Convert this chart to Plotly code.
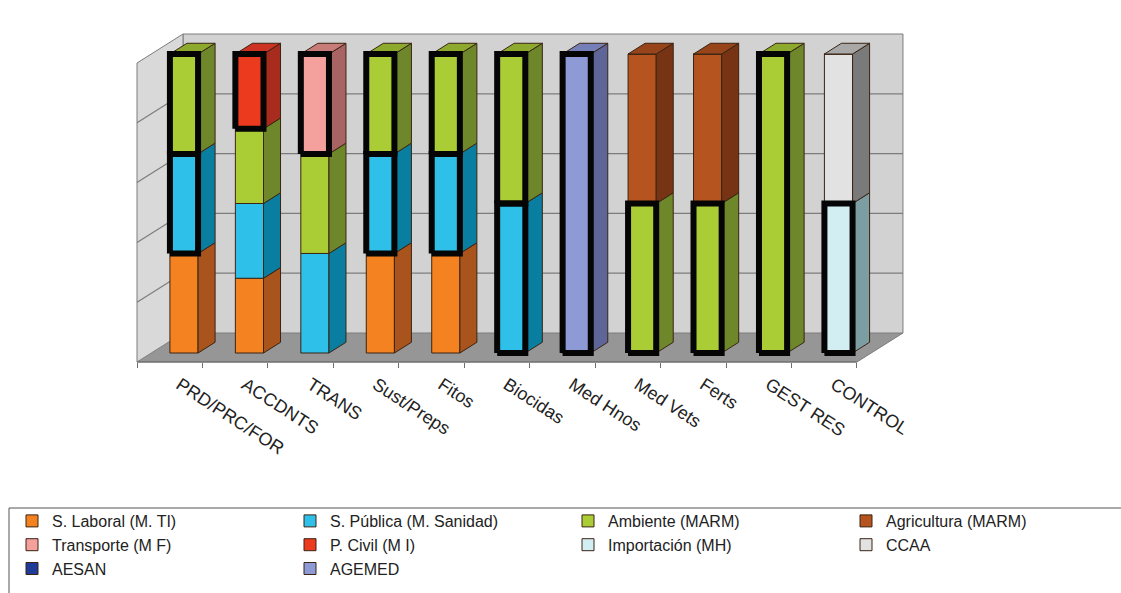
import plotly.graph_objects as go

# ---- data (percent of each activity) ----
categories = ["PRD/PRC/FOR", "ACCDNTS", "TRANS", "Sust/Preps", "Fitos", "Biocidas",
              "Med Hnos", "Med Vets", "Ferts", "GEST RES", "CONTROL"]

s_laboral   = [33.3, 25, 0, 33.3, 33.3, 0, 0, 0, 0, 0, 0]
s_publica   = [33.3, 25, 33.3, 33.3, 33.3, 50, 0, 0, 0, 0, 0]
ambiente    = [33.4, 25, 33.3, 33.4, 33.4, 50, 0, 50, 50, 100, 0]
agricultura = [0, 0, 0, 0, 0, 0, 0, 50, 50, 0, 0]
transporte  = [0, 0, 33.4, 0, 0, 0, 0, 0, 0, 0, 0]
p_civil     = [0, 25, 0, 0, 0, 0, 0, 0, 0, 0, 0]
importacion = [0, 0, 0, 0, 0, 0, 0, 0, 0, 0, 50]
ccaa        = [0, 0, 0, 0, 0, 0, 0, 0, 0, 0, 50]
aesan       = [0, 0, 0, 0, 0, 0, 0, 0, 0, 0, 0]
agemed      = [0, 0, 0, 0, 0, 0, 100, 0, 0, 0, 0]

series = [
    ("S. Laboral (M. TI)",      s_laboral),
    ("S. Pública (M. Sanidad)", s_publica),
    ("Ambiente (MARM)",         ambiente),
    ("Agricultura (MARM)",      agricultura),
    ("Transporte (M F)",        transporte),
    ("P. Civil (M I)",          p_civil),
    ("Importación (MH)",        importacion),
    ("CCAA",                    ccaa),
    ("AESAN",                   aesan),
    ("AGEMED",                  agemed),
]

# ---- styling: (front, side, top) colours per series ----
colors = {
    "S. Laboral (M. TI)":      ("#F58220", "#A8541C", "#CF6A1C"),
    "S. Pública (M. Sanidad)": ("#2EC0E8", "#0A7EA0", "#1A9EC4"),
    "Ambiente (MARM)":         ("#AACD35", "#6E872A", "#8DAA2E"),
    "Agricultura (MARM)":      ("#B5541E", "#773414", "#98441A"),
    "Transporte (M F)":        ("#F4A09C", "#A86464", "#C87C7A"),
    "P. Civil (M I)":          ("#EC3A1E", "#A82C1E", "#CC3322"),
    "Importación (MH)":        ("#D2EEF2", "#7C9EA2", "#A8C8CC"),
    "CCAA":                    ("#E2E2E2", "#7A7A7A", "#A8A8A8"),
    "AESAN":                   ("#1F3C99", "#142868", "#1A327F"),
    "AGEMED":                  ("#8E9AD6", "#5E6699", "#7680B8"),
}

# segments drawn with a heavy black frame
outlined = {
    "S. Pública (M. Sanidad)": ["PRD/PRC/FOR", "Sust/Preps", "Fitos", "Biocidas"],
    "Ambiente (MARM)": ["PRD/PRC/FOR", "Sust/Preps", "Fitos", "Biocidas",
                        "Med Vets", "Ferts", "GEST RES"],
    "P. Civil (M I)": ["ACCDNTS"],
    "Transporte (M F)": ["TRANS"],
    "AGEMED": ["Med Hnos"],
    "Importación (MH)": ["CONTROL"],
}

# ---- pseudo-3D geometry (axis units: 1 x-unit = one category, 1 y-unit = 1 %) ----
W, H = 1121, 593
PX0, UX = 137, 65.45      # pixel of x=0, pixels per category
PY0, UY = 362, 2.99       # pixel of y=0, pixels per percent
DX, DY = 0.703, 9.7       # full depth of the box (back wall offset)
FRONT, BACK = 0.31, 0.68  # depth of bar front / back faces
BW = 0.43                 # bar width
EDGE = "#3A2414"

n = len(categories)
fx, fy = FRONT * DX, FRONT * DY
sdx, sdy = (BACK - FRONT) * DX, (BACK - FRONT) * DY

fig = go.Figure()

# stacked bottoms
bottoms = [[0.0] * n]
for _, vals in series[:-1]:
    bottoms.append([b + v for b, v in zip(bottoms[-1], vals)])
totals = [b + v for b, v in zip(bottoms[-1], series[-1][1])]

# front faces (a series with no share keeps its zero entries so it stays in the legend)
for (name, vals), base in zip(series, bottoms):
    keep = [i for i, v in enumerate(vals) if v > 0] or list(range(n))
    fig.add_trace(go.Bar(
        x=[i + 0.5 + fx for i in keep],
        y=[vals[i] for i in keep],
        base=[base[i] + fy for i in keep],
        width=BW, name=name,
        marker=dict(color=colors[name][0], line=dict(color=EDGE, width=1)),
        hoverinfo="skip",
    ))

# side and top faces
for (name, vals), base in zip(series, bottoms):
    sx, sy, tx, ty = [], [], [], []
    for i, v in enumerate(vals):
        if v <= 0:
            continue
        xl = i + 0.5 + fx - BW / 2
        xr = i + 0.5 + fx + BW / 2
        y0 = base[i] + fy
        y1 = base[i] + v + fy
        sx += [xr, xr + sdx, xr + sdx, xr, xr, None]
        sy += [y0, y0 + sdy, y1 + sdy, y1, y0, None]
        if abs(base[i] + v - totals[i]) < 1e-9:
            tx += [xl, xl + sdx, xr + sdx, xr, xl, None]
            ty += [y1, y1 + sdy, y1 + sdy, y1, y1, None]
    if sx:
        fig.add_trace(go.Scatter(x=sx, y=sy, mode="lines", fill="toself",
                                 fillcolor=colors[name][1],
                                 line=dict(color=EDGE, width=1),
                                 showlegend=False, hoverinfo="skip"))
    if tx:
        fig.add_trace(go.Scatter(x=tx, y=ty, mode="lines", fill="toself",
                                 fillcolor=colors[name][2],
                                 line=dict(color=EDGE, width=1),
                                 showlegend=False, hoverinfo="skip"))

# heavy frames
ox, oy = [], []
for (name, vals), base in zip(series, bottoms):
    for cat in outlined.get(name, []):
        i = categories.index(cat)
        xl = i + 0.5 + fx - BW / 2
        xr = i + 0.5 + fx + BW / 2
        y0 = base[i] + fy
        y1 = base[i] + vals[i] + fy
        ox += [xl, xr, xr, xl, xl, None]
        oy += [y0, y0, y1, y1, y0, None]
fig.add_trace(go.Scatter(x=ox, y=oy, mode="lines",
                         line=dict(color="#050505", width=6),
                         showlegend=False, hoverinfo="skip"))

# ---- walls, floor and gridlines ----
WALL, FLOOR, GRID = "#D2D2D2", "#969696", "#7C7C7C"
shapes = []
shapes.append(dict(type="path", xref="x", yref="y", layer="below",
                   path=f"M0,0 L{n},0 L{n + DX},{DY} L{DX},{DY} Z",
                   fillcolor=FLOOR, line=dict(width=0)))
shapes.append(dict(type="path", xref="x", yref="y", layer="below",
                   path=f"M{DX},{DY} L{n + DX},{DY} L{n + DX},{100 + DY} L{DX},{100 + DY} Z",
                   fillcolor=WALL, line=dict(color=GRID, width=1)))
shapes.append(dict(type="path", xref="x", yref="y", layer="below",
                   path=f"M0,0 L{DX},{DY} L{DX},{100 + DY} L0,100 Z",
                   fillcolor="#D9D9D9", line=dict(color=GRID, width=1)))
for g in [20, 40, 60, 80]:
    shapes.append(dict(type="line", xref="x", yref="y", layer="below",
                       x0=DX, y0=g + DY, x1=n + DX, y1=g + DY,
                       line=dict(color=GRID, width=1.2)))
    shapes.append(dict(type="line", xref="x", yref="y", layer="below",
                       x0=0, y0=g, x1=DX, y1=g + DY,
                       line=dict(color=GRID, width=1.2)))
shapes.append(dict(type="line", xref="x", yref="y", layer="below",
                   x0=n, y0=0, x1=n + DX, y1=DY, line=dict(color=GRID, width=1)))
shapes.append(dict(type="line", xref="x", yref="y", layer="below",
                   x0=0, y0=0, x1=n, y1=0, line=dict(color="#6E6E6E", width=1.5)))
# legend frame
shapes.append(dict(type="rect", xref="paper", yref="paper",
                   x0=9 / W, x1=1.02, y0=-0.05, y1=1 - 508 / H,
                   line=dict(color="#555555", width=1), fillcolor="rgba(0,0,0,0)"))

fig.update_layout(
    width=W, height=H,
    margin=dict(l=0, r=0, t=0, b=0, autoexpand=False),
    paper_bgcolor="white", plot_bgcolor="white",
    barmode="overlay",
    shapes=shapes,
    font=dict(family="Liberation Sans, Arial, sans-serif", color="#222222"),
    showlegend=True,
    legend=dict(orientation="h", x=12 / W, y=1 - 504 / H,
                xanchor="left", yanchor="top",
                entrywidth=233, entrywidthmode="pixels",
                font=dict(size=16, color="#222222"),
                bgcolor="rgba(0,0,0,0)", tracegroupgap=0, itemclick=False),
    xaxis=dict(
        range=[-PX0 / UX, (W - PX0) / UX],
        domain=[0, 1], anchor="free", position=(H - PY0) / H,
        showgrid=False, zeroline=False, showline=False,
        tickmode="array",
        tickvals=[i + 0.5 for i in range(n)], ticktext=categories,
        ticks="", tickangle=33,
        ticklabelshift=10, ticklabelstandoff=8,
        tickfont=dict(size=18, color="#222222"),
        minor=dict(tickmode="array", tickvals=list(range(n + 1)),
                   ticks="outside", ticklen=5, tickcolor="#6E6E6E", tickwidth=1.2),
        automargin=False, fixedrange=True,
    ),
    yaxis=dict(
        range=[(PY0 - H) / UY, PY0 / UY], domain=[0, 1],
        visible=False, automargin=False, fixedrange=True,
    ),
)

fig.write_html("out.html")
